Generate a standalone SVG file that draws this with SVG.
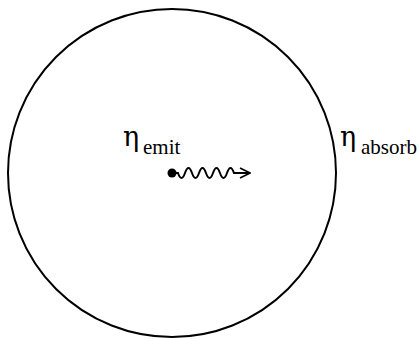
<svg xmlns="http://www.w3.org/2000/svg" width="419" height="339" viewBox="0 0 419 339">
<style>
.t{font-family:"Liberation Serif","Times New Roman",serif;fill:#000}
.eta{font-family:"DejaVu Serif","Liberation Serif",serif;font-size:27px}
.sub{font-size:21px}
.ln{fill:none;stroke:#000;stroke-width:2}
</style>
<defs>
<marker id="ah" markerWidth="12" markerHeight="12" refX="11" refY="6" orient="auto" markerUnits="userSpaceOnUse">
<path d="M1,1 L11,6 L1,11" fill="none" stroke="#000" stroke-width="1.6"/>
</marker>
</defs>
<rect width="419" height="339" fill="#fff"/>
<g id="sphere">
<circle class="ln" cx="172" cy="173" r="164"/>
</g>
<g id="emitter">
<circle cx="172" cy="173" r="4.5" fill="#000"/>
<text class="t" x="123" y="146"><tspan class="eta">η</tspan><tspan class="sub" x="143" y="154">emit</tspan></text>
</g>
<g id="absorber">
<text class="t" x="340" y="146"><tspan class="eta">η</tspan><tspan class="sub" x="361" y="154">absorb</tspan></text>
</g>
<g id="connectors">
<path class="ln" stroke-width="1.6" marker-end="url(#ah)" d="M172,173 L178,173 q3.5,10 7,0 t7,0 t7,0 t7,0 t7,0 t7,0 t7,0 t7,0 L250,173"/>
</g>
</svg>
